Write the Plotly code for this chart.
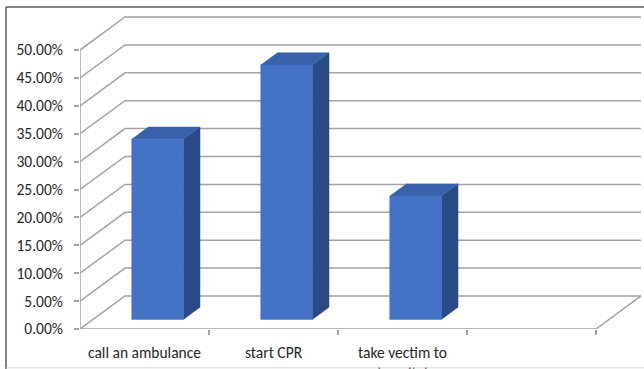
import plotly.graph_objects as go

# Survey answers: share of respondents choosing each first action
categories = ["call an ambulance", "start CPR", "take vectim to<br>hospital", ""]
shares = [0.323, 0.456, 0.221]
y_ticks = [0.0, 0.05, 0.10, 0.15, 0.20, 0.25, 0.30, 0.35, 0.40, 0.45, 0.50]

# Canvas and pseudo-3D geometry
W, H = 644, 369
ML, MB = 80, 40.3
CAT_PX = 129.0          # pixels per category slot
UNIT_PX = 557.4         # pixels per 100 %
DEPTH_X, DEPTH_Y = 45.0, 33.0   # full-depth offset of the back wall (px)

du = DEPTH_X / CAT_PX   # depth offset in category units
dv = DEPTH_Y / UNIT_PX  # depth offset in value units
n = len(categories)
wall_top = y_ticks[-1]

GRID = "#A3A3A3"
FRONT, TOP, SIDE = "#4472C4", "#3A62AA", "#294A84"
TEXT = "#262626"
FONT = "Calibri, Carlito, Liberation Sans, Arial, sans-serif"

fig = go.Figure()

# Walls: side-wall diagonals, back-wall gridlines, floor and front axis
gx, gy = [], []
for v in y_ticks:
    gx += [0, du, n + du, None]
    gy += [v, v + dv, v + dv, None]
gx += [0, n, n + du, None, 0, 0]
gy += [0, 0, dv, None, 0, wall_top]
fig.add_trace(go.Scatter(x=gx, y=gy, mode="lines",
                         line=dict(color=GRID, width=1.5),
                         hoverinfo="skip", showlegend=False))

# Bars as boxes sitting in the middle of the floor depth
d1, d2 = 0.29, 0.66
half = 0.2
for i, val in enumerate(shares):
    cx = i + 0.5
    x0, x1 = cx - half, cx + half
    fx0, fx1 = x0 + d1 * du, x1 + d1 * du
    bx0, bx1 = x0 + d2 * du, x1 + d2 * du
    fy0, by0 = d1 * dv, d2 * dv
    fy1, by1 = fy0 + val, by0 + val
    faces = [
        ([fx1, bx1, bx1, fx1, fx1], [fy0, by0, by1, fy1, fy0], SIDE),
        ([fx0, fx1, bx1, bx0, fx0], [fy1, fy1, by1, by1, fy1], TOP),
        ([fx0, fx1, fx1, fx0, fx0], [fy0, fy0, fy1, fy1, fy0], FRONT),
    ]
    for xs, ys, col in faces:
        fig.add_trace(go.Scatter(x=xs, y=ys, mode="lines", fill="toself",
                                 fillcolor=col, line=dict(color=col, width=0.5),
                                 hoverinfo="skip", showlegend=False))

# Outer frame of the chart area
px = lambda p: (p - ML) / (W - ML)
py = lambda p: (H - MB - p) / (H - MB)
fig.add_shape(type="line", xref="paper", yref="paper",
              x0=px(6), x1=px(W), y0=py(7), y1=py(7),
              line=dict(color="#5A5A5A", width=1.5))
fig.add_shape(type="line", xref="paper", yref="paper",
              x0=px(6), x1=px(6), y0=py(7), y1=py(H),
              line=dict(color="#5A5A5A", width=1.5))
fig.add_shape(type="line", xref="paper", yref="paper",
              x0=px(6), x1=px(W), y0=py(367.5), y1=py(367.5),
              line=dict(color="#DADADA", width=1))

fig.update_layout(
    width=W, height=H,
    margin=dict(l=ML, r=0, t=0, b=MB, pad=0, autoexpand=False),
    paper_bgcolor="white", plot_bgcolor="white",
    font=dict(family=FONT, size=15.5, color=TEXT),
    showlegend=False,
    xaxis=dict(range=[0, (W - ML) / CAT_PX], showgrid=False, zeroline=False,
               showline=False, ticks="", automargin=False,
               tickvals=[i + 0.5 for i in range(n)], ticktext=categories,
               ticklabelstandoff=12,
               minor=dict(tickvals=[1, 2, 3, 4], ticks="outside", ticklen=5,
                          tickwidth=1.5, tickcolor=GRID, showgrid=False),
               fixedrange=True),
    yaxis=dict(range=[0, (H - MB) / UNIT_PX], showgrid=False, zeroline=False,
               showline=False, ticks="outside", ticklen=5, tickwidth=1.5,
               tickcolor=GRID, tickvals=y_ticks, tickformat=".2%",
               automargin=False, ticklabelstandoff=8, fixedrange=True),
)

fig.write_html("out.html", config={"displayModeBar": False})
